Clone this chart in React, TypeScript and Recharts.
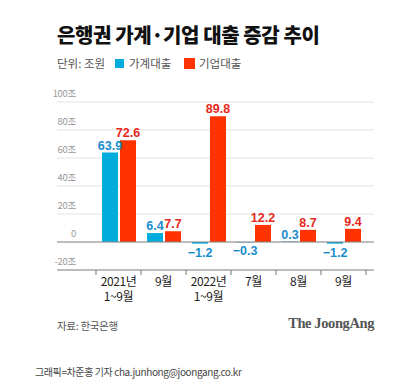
import React from 'react';
import {
  BarChart,
  Bar,
  XAxis,
  YAxis,
  CartesianGrid,
  ReferenceLine,
  LabelList
} from 'recharts';

const CATEGORIES = ['2021년\n1~9월', '9월', '2022년\n1~9월', '7월', '8월', '9월'];
const HOUSEHOLD = [63.9, 6.4, -1.2, -0.3, 0.3, -1.2];
const CORPORATE = [72.6, 7.7, 89.8, 12.2, 8.7, 9.4];
const Y_TICKS = [-20, 0, 20, 40, 60, 80, 100];
const Y_TICK_LABELS = ['-20조', '0', '20조', '40조', '60조', '80조', '100조'];

const BLUE = '#00acdc';
const RED = '#ff3300';
const BLUE_TEXT = '#1a8ccc';
const RED_TEXT = '#e6281c';

const KR = '"Noto Sans CJK KR", "Noto Sans", sans-serif';
const NUM = '"Liberation Sans", Arial, sans-serif';

const HALF_BAND = 22.5;

const data = CATEGORIES.map((label, i) => ({
  label,
  household: HOUSEHOLD[i],
  corporate: CORPORATE[i],
}));

const fmt = (v: number) => (v < 0 ? `−${Math.abs(v).toFixed(1)}` : v.toFixed(1));

const makeLabel = (color: string) => (props: any) => {
  const { x, y, width, height, value } = props;
  const top = Math.min(y, y + height);
  const bottom = Math.max(y, y + height);
  const cx = x + width / 2;
  const v = Number(value);
  return (
    <text
      x={cx}
      y={v < 0 ? bottom + 13 : top - 3}
      textAnchor="middle"
      fill={color}
      fontFamily={NUM}
      fontWeight="bold"
      fontSize={12.5}
    >
      {fmt(v)}
    </text>
  );
};

const XTick = (props: any) => {
  const { x, y, payload, index } = props;
  const lines = String(payload.value).split('\n');
  return (
    <g>
      <line x1={x - HALF_BAND} x2={x - HALF_BAND} y1={y} y2={y + 5} stroke="#777" />
      {index === CATEGORIES.length - 1 && (
        <line x1={x + HALF_BAND} x2={x + HALF_BAND} y1={y} y2={y + 5} stroke="#777" />
      )}
      {lines.map((t, i) => (
        <text
          key={i}
          x={x}
          y={y + 16 + i * 15}
          textAnchor="middle"
          fill="#222"
          fontFamily={KR}
          fontSize={12}
          letterSpacing={-0.4}
        >
          {t}
        </text>
      ))}
    </g>
  );
};

const YTick = (props: any) => {
  const { y, payload } = props;
  const idx = Y_TICKS.indexOf(payload.value);
  return (
    <text
      x={76}
      y={y - 5}
      textAnchor="end"
      fill="#999"
      fontFamily={KR}
      fontSize={9.5}
      letterSpacing={-0.3}
    >
      {Y_TICK_LABELS[idx]}
    </text>
  );
};

const legendText: React.CSSProperties = {
  position: 'absolute',
  top: 55,
  fontSize: 11.5,
  color: '#555',
  lineHeight: '16px',
  whiteSpace: 'nowrap',
};

export default function App() {
  return (
    <div
      style={{
        position: 'absolute',
        left: 0,
        top: 0,
        width: 394,
        height: 387,
        background: '#fff',
        fontFamily: KR,
      }}
    >
      <div
        style={{
          position: 'absolute',
          left: 57,
          top: 20,
          fontSize: 20,
          fontWeight: 900,
          color: '#111',
          letterSpacing: -0.4,
          whiteSpace: 'nowrap',
        }}
      >
        은행권 가계·기업 대출 증감 추이
      </div>

      <div style={{ ...legendText, left: 57 }}>단위: 조원</div>
      <div style={{ position: 'absolute', left: 115, top: 59, width: 9, height: 9, background: BLUE }} />
      <div style={{ ...legendText, left: 129 }}>가계대출</div>
      <div style={{ position: 'absolute', left: 184, top: 58, width: 11, height: 11, background: RED }} />
      <div style={{ ...legendText, left: 199 }}>기업대출</div>

      <div style={{ position: 'absolute', left: 0, top: 0 }}>
        <BarChart
          width={394}
          height={310}
          data={data}
          margin={{ top: 102, right: 20, left: 56, bottom: 0 }}
          barGap={2}
          barSize={16}
        >
          <CartesianGrid vertical={false} stroke="#e2e2e2" />
          <YAxis
            width={1}
            domain={[-20, 100]}
            ticks={Y_TICKS}
            axisLine={false}
            tickLine={false}
            tick={<YTick />}
            interval={0}
          />
          <XAxis
            dataKey="label"
            height={40}
            padding={{ left: 39, right: 8 }}
            axisLine={{ stroke: '#888' }}
            tickLine={false}
            tickSize={0}
            tickMargin={0}
            interval={0}
            tick={<XTick />}
          />
          <ReferenceLine y={0} stroke="#888" />
          <Bar dataKey="household" fill={BLUE} isAnimationActive={false}>
            <LabelList dataKey="household" content={makeLabel(BLUE_TEXT)} />
          </Bar>
          <Bar dataKey="corporate" fill={RED} isAnimationActive={false}>
            <LabelList dataKey="corporate" content={makeLabel(RED_TEXT)} />
          </Bar>
        </BarChart>
      </div>

      <div style={{ position: 'absolute', left: 57, top: 318, fontSize: 10.5, color: '#555', letterSpacing: -0.3 }}>
        자료: 한국은행
      </div>
      <div
        style={{
          position: 'absolute',
          right: 20,
          top: 315,
          fontSize: 14.5,
          fontWeight: 'bold',
          color: '#555',
          fontFamily: '"Liberation Serif", serif',
          letterSpacing: -0.4,
        }}
      >
        The JoongAng
      </div>
      <div style={{ position: 'absolute', left: 35, top: 364, fontSize: 10, color: '#444', letterSpacing: -0.4, whiteSpace: 'nowrap' }}>
        그래픽=차준홍 기자 cha.junhong@joongang.co.kr
      </div>
    </div>
  );
}
